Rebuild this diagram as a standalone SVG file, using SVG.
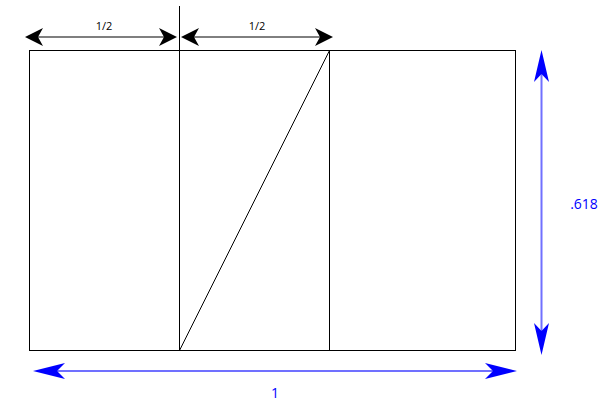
<svg xmlns="http://www.w3.org/2000/svg" width="616" height="420" viewBox="0 0 616 420">
<style>
.frame{fill:none;stroke:#000;stroke-width:1}
.bl{fill:#000}
.bu{fill:#0000ff}
.t{font-family:"Open Sans","DejaVu Sans",sans-serif}
</style>
<rect width="616" height="420" fill="#fff"/>
<g id="rectangle">
<rect class="frame" x="29.5" y="50.5" width="486" height="300"/>
<line class="frame" x1="179.5" y1="6" x2="179.5" y2="351"/>
<line class="frame" x1="329.5" y1="50" x2="329.5" y2="351"/>
<line class="frame" x1="179.5" y1="350.5" x2="329.5" y2="50.5"/>
</g>
<g id="connectors">
<line x1="30" y1="37" x2="172" y2="37" stroke="#555" stroke-width="1.5"/>
<path class="bl" d="M25,37 L43,28 L38,37 L43,46 Z"/>
<path class="bl" d="M177,37 L159,28 L164,37 L159,46 Z"/>
<line x1="186" y1="37" x2="328" y2="37" stroke="#000" stroke-width="1"/>
<path class="bl" d="M181,37 L199,28 L194,37 L199,46 Z"/>
<path class="bl" d="M333,37 L315,28 L320,37 L315,46 Z"/>
<line x1="541.5" y1="60" x2="541.5" y2="346" stroke="#7070ff" stroke-width="2"/>
<path class="bu" d="M541.5,50 L549,82 L541.5,74 L534,82 Z"/>
<path class="bu" d="M541.5,355 L549,323 L541.5,331 L534,323 Z"/>
<line x1="42" y1="371" x2="508" y2="371" stroke="#7070ff" stroke-width="2"/>
<path class="bu" d="M33,371 L65,363 L57,371 L65,379 Z"/>
<path class="bu" d="M517,371 L485,363 L493,371 L485,379 Z"/>
</g>
<g id="labels">
<text class="t" x="104" y="30" font-size="11" text-anchor="middle" fill="#000">1/2</text>
<text class="t" x="257" y="30" font-size="11" text-anchor="middle" fill="#000">1/2</text>
<text class="t" x="584" y="209" font-size="14" text-anchor="middle" fill="#0000ff">.618</text>
<text class="t" x="275" y="398" font-size="14" text-anchor="middle" fill="#0000ff">1</text>
</g>
</svg>
